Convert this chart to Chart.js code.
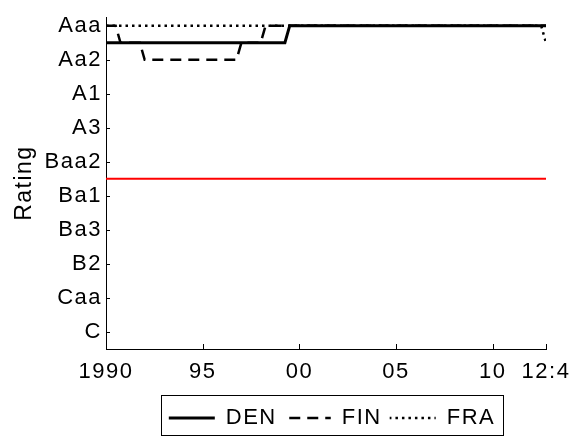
<!DOCTYPE html>
<html>
<head>
<meta charset="utf-8">
<script src="https://cdn.jsdelivr.net/npm/chart.js@4/dist/chart.umd.min.js"></script>
<style>
  body { margin: 0; background: #fff; }
</style>
</head>
<body>
<canvas id="chart" width="583" height="438"></canvas>
<script>
// rating scale, top (best) to bottom
const ratings = ["Aaa", "Aa1", "Aa2", "Aa3", "A1", "A2", "A3", "Baa1", "Baa2", "Baa3",
  "Ba1", "Ba2", "Ba3", "B1", "B2", "B3", "Caa", "Ca", "C"];
const ratingTicks = ["Aaa", "Aa2", "A1", "A3", "Baa2", "Ba1", "Ba3", "B2", "Caa", "C"];

const yearTicks = [1990, 1995, 2000, 2005, 2010, 2012.75];
const yearLabels = ["1990", "95", "00", "05", "10", "12:4"];

// change points (quarterly), value held between them
const denDates = [1990, 1999.25, 1999.5, 2012.75];
const denRating = ["Aa1", "Aa1", "Aaa", "Aaa"];
const finDates = [1990, 1990.5, 1990.75, 1991.75, 1992, 1996.75, 1997, 1998, 1998.25, 2012.75];
const finRating = ["Aaa", "Aaa", "Aa1", "Aa1", "Aa2", "Aa2", "Aa1", "Aa1", "Aaa", "Aaa"];
const fraDates = [1990, 2012.5, 2012.75];
const fraRating = ["Aaa", "Aaa", "Aa1"];
const gradeDates = [1990, 2012.75];
const gradeRating = ["Baa3", "Baa3"];

const FONT = "'Liberation Sans', Arial, sans-serif";
const SAMPLE = 46;

function toPoints(dates, rs) {
  return dates.map((d, i) => ({ x: d, y: ratings.indexOf(rs[i]) }));
}

const spacing = {
  id: "spacing",
  beforeUpdate(c) { c.ctx.letterSpacing = "1.5px"; },
  beforeLayout(c) { c.ctx.letterSpacing = "1.5px"; },
  afterLayout(c) {
    // centre the legend under the plot rather than the canvas
    c.legend.left = 118;
    c.legend.right = 546;
    c.legend.top += 3;
    c.legend.bottom += 3;
  },
  beforeDraw(c) { c.ctx.letterSpacing = "1.5px"; }
};

// inward tick marks and legend frame
const marks = {
  id: "marks",
  afterDraw(c) {
    const ctx = c.ctx;
    const xs = c.scales.x, ys = c.scales.y;
    ctx.save();
    ctx.strokeStyle = "#000";
    ctx.lineWidth = 1;
    ctx.beginPath();
    yearTicks.slice(1).forEach(t => {
      const px = Math.round(xs.getPixelForValue(t)) + 0.5;
      ctx.moveTo(px, xs.top);
      ctx.lineTo(px, xs.top - 5);
    });
    ratingTicks.forEach(r => {
      const py = Math.round(ys.getPixelForValue(ratings.indexOf(r))) + 0.5;
      ctx.moveTo(ys.right, py);
      ctx.lineTo(ys.right + 4, py);
    });
    ctx.stroke();

    const boxes = c.legend.legendHitBoxes;
    if (boxes && boxes.length) {
      const l = Math.min(...boxes.map(b => b.left)) - 8;
      const r = Math.max(...boxes.map(b => b.left + b.width)) + 8;
      ctx.strokeRect(Math.round(l) + 0.5, 395.5, Math.round(r - l), 40);
    }
    ctx.restore();
  }
};

new Chart(document.getElementById("chart").getContext("2d"), {
  type: "line",
  data: {
    datasets: [
      { label: "DEN", data: toPoints(denDates, denRating), borderColor: "#000", borderWidth: 3 },
      { label: "FIN", data: toPoints(finDates, finRating), borderColor: "#000", borderWidth: 2.5, borderDash: [11, 7] },
      { label: "FRA", data: toPoints(fraDates, fraRating), borderColor: "#000", borderWidth: 2.5, borderDash: [2.5, 4] },
      { label: "grade", data: toPoints(gradeDates, gradeRating), borderColor: "#ff0000", borderWidth: 2 }
    ]
  },
  options: {
    responsive: false,
    animation: false,
    elements: { point: { radius: 0 }, line: { tension: 0 } },
    layout: { padding: { left: 0, right: 37, top: 15, bottom: 2 } },
    plugins: {
      tooltip: { enabled: false },
      legend: {
        position: "bottom",
        labels: {
          filter: item => item.text !== "grade",
          // the zero-height legend box is stroked out and back, so shift the
          // dash phase to make both passes land on the same dashes
          generateLabels: chart => Chart.defaults.plugins.legend.labels.generateLabels(chart).map(it => {
            if (it.lineDash && it.lineDash.length) it.lineDashOffset = (it.lineDash[0] - 2 * SAMPLE) / 2;
            return it;
          }),
          color: "#000",
          font: { family: FONT, size: 22 },
          boxWidth: SAMPLE,
          boxHeight: 0,
          padding: 8
        }
      }
    },
    scales: {
      x: {
        type: "linear",
        min: 1990,
        max: 2012.75,
        afterBuildTicks: s => { s.ticks = yearTicks.map(v => ({ value: v })); },
        afterFit: s => { s.height = 47; },
        ticks: {
          autoSkip: false,
          maxRotation: 0,
          color: "#000",
          font: { family: FONT, size: 22 },
          padding: 10,
          callback: (v, i) => yearLabels[i]
        },
        grid: { drawOnChartArea: false, drawTicks: false },
        border: { color: "#000", width: 1 }
      },
      y: {
        type: "linear",
        reverse: true,
        min: -0.5,
        max: 19,
        afterBuildTicks: s => { s.ticks = ratingTicks.map(r => ({ value: ratings.indexOf(r) })); },
        afterFit: s => { s.width = 106; },
        ticks: {
          autoSkip: false,
          color: "#000",
          font: { family: FONT, size: 22 },
          padding: 4,
          callback: v => ratings[v]
        },
        title: {
          display: true,
          text: "Rating",
          color: "#000",
          font: { family: FONT, size: 23 },
          padding: { top: 11, bottom: 0 }
        },
        grid: { drawOnChartArea: false, drawTicks: false },
        border: { color: "#000", width: 1 }
      }
    }
  },
  plugins: [spacing, marks]
});
</script>
</body>
</html>
